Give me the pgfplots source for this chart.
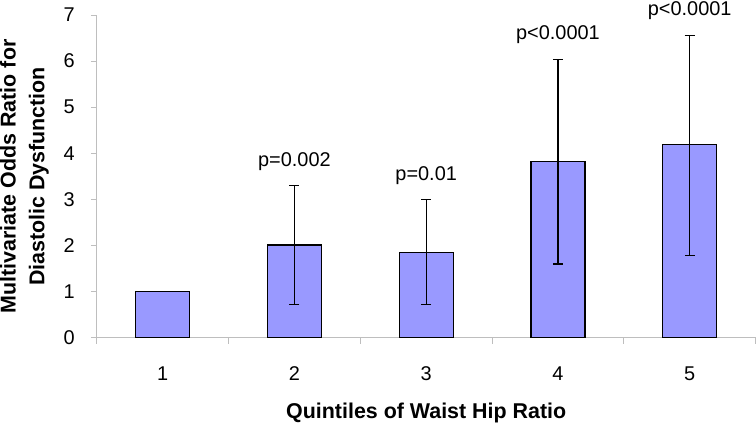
\documentclass[border=0pt]{standalone}
\usepackage{fontspec}
\setmainfont{Liberation Sans}
\usepackage{pgfplots}
\pgfplotsset{compat=1.18}
\definecolor{barfill}{RGB}{153,153,255}
\definecolor{axisgray}{RGB}{190,190,190}
\newcommand\lblfont{\fontsize{20}{24}\selectfont}
\begin{document}
\begin{tikzpicture}
\begin{axis}[
    scale only axis,
    width=659bp, height=323bp,
    ybar, bar width=54bp, bar shift=0pt,
    xmin=0.5, xmax=5.5,
    ymin=0, ymax=7,
    axis x line=bottom, axis y line=left,
    axis line style={-, axisgray, line width=0.8bp},
    xtick={1,2,3,4,5},
    minor xtick={0.5,1.5,2.5,3.5,4.5,5.5},
    ytick={0,1,...,7},
    tick align=outside,
    major x tick style={draw=none},
    minor x tick style={axisgray, line width=0.8bp},
    y tick style={axisgray, line width=0.8bp},
    major tick length=6bp, minor tick length=6bp,
    ticklabel style={font=\lblfont, inner sep=0pt},
    /pgf/number format/assume math mode=true,
    xticklabel style={anchor=north, yshift=-23bp},
    yticklabel style={anchor=east, xshift=-16bp},
    xlabel={\textbf{Quintiles of Waist Hip Ratio}},
    ylabel={\textbf{Multivariate Odds Ratio for}\\\textbf{Diastolic Dysfunction}},
    ylabel style={at={(axis description cs:0,0.5)}, anchor=north,
      yshift=97bp, inner sep=0pt, align=center,
      font=\fontsize{21.5}{29}\selectfont},
    xlabel style={at={(axis description cs:0.5,0)}, anchor=center,
      yshift=-75bp, inner sep=0pt, font=\fontsize{21.5}{25}\selectfont},
    clip=false,
]
% odds ratio per quintile with 95% CI (plus / minus)
\addplot[fill=barfill, draw=black, line width=1.3bp,
  error bars/.cd, y dir=both, y explicit,
  error bar style={black, line width=1.1bp},
  error mark options={rotate=90, mark size=5bp, line width=1.1bp, black}]
  coordinates {
  (1,1.00) += (0,0) -= (0,0)
  (2,2.01) += (0,1.29) -= (0,1.29)
  (3,1.85) += (0,1.15) -= (0,1.13)
  (4,3.82) += (0,2.22) -= (0,2.22)
  (5,4.19) += (0,2.37) -= (0,2.40)
};
\tikzset{plab/.style={anchor=south, font=\lblfont, inner xsep=0pt,
  inner ysep=2bp, yshift=13bp}}
\node[plab] at (axis cs:2,3.30) {p=0.002};
\node[plab] at (axis cs:3,3.00) {p=0.01};
\node[plab] at (axis cs:4,6.04) {p<0.0001};
\node[plab] at (axis cs:5,6.56) {p<0.0001};
\end{axis}
\end{tikzpicture}
\end{document}
